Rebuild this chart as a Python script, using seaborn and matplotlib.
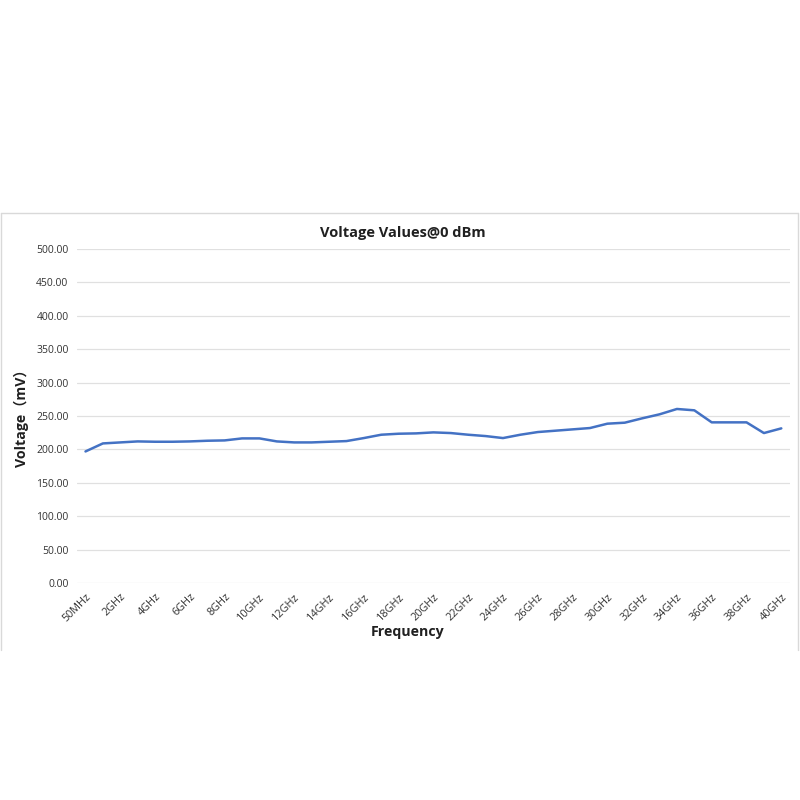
import pandas as pd
import matplotlib.pyplot as plt
import seaborn as sns
from matplotlib.lines import Line2D

freqs = ["50MHz"] + [f"{i}GHz" for i in range(1, 41)]
voltage = [197, 209, 210.5, 212, 211.5, 211.5, 212, 213, 213.5, 216.5,
           216.5, 212, 210.5, 210.5, 211.5, 212.5, 217, 222, 223.5, 224,
           225.5, 224.5, 222, 220, 217, 222, 226, 228, 230, 232,
           238.5, 240, 246.5, 252.5, 260.5, 258.5, 240.5, 240.5, 240.5, 224.5,
           231.5]
y_ticks = [0, 50, 100, 150, 200, 250, 300, 350, 400, 450, 500]

df = pd.DataFrame({"freq": freqs, "voltage": voltage})
df["pos"] = range(len(df))

sns.set_style("white")
plt.rcParams["font.family"] = ["Open Sans", "DejaVu Sans"]

fig = plt.figure(figsize=(8, 8), dpi=100)
ax = fig.add_axes([0.096, 0.271, 0.8915, 0.418])

sns.lineplot(data=df, x="pos", y="voltage", color="#4472C4", linewidth=1.8, ax=ax)

ax.set_xlim(-0.5, len(freqs) - 0.5)
ax.set_ylim(0, 500)
ax.set_yticks(y_ticks)
ax.set_yticklabels([f"{v:.2f}" for v in y_ticks], fontsize=7.5, color="#333333")
ax.set_xticks(df["pos"][::2])
ax.set_xticklabels(df["freq"][::2], rotation=45, ha="right", rotation_mode="anchor",
                   fontsize=7.8, color="#333333")
ax.tick_params(axis="both", length=0, pad=6)
ax.grid(axis="y", color="#e0e0e0", linewidth=0.9)
ax.set_axisbelow(True)
for s in ax.spines.values():
    s.set_visible(False)

ax.set_xlabel("")
ax.set_ylabel("")
fig.text(0.503, 0.709, "Voltage Values@0 dBm", ha="center", va="center",
         fontsize=10.5, fontweight="bold", color="#202020")
fig.text(0.509, 0.21, "Frequency", ha="center", va="center",
         fontsize=10.2, fontweight="bold", color="#202020")
fig.text(0.027, 0.481, "Voltage（mV）", ha="center", va="center", rotation=90,
         fontsize=10.2, fontweight="bold", color="#202020",
         family=["Open Sans", "Noto Sans CJK SC", "DejaVu Sans"])

# chart frame
frame_col = "#d9d9d9"
fig.add_artist(Line2D([0.0015, 0.0015], [0.1875, 0.734], color=frame_col, lw=1))
fig.add_artist(Line2D([0.0015, 0.998], [0.734, 0.734], color=frame_col, lw=1))
fig.add_artist(Line2D([0.998, 0.998], [0.1875, 0.734], color=frame_col, lw=1))

fig.savefig("out.png", dpi=100, facecolor="white")
